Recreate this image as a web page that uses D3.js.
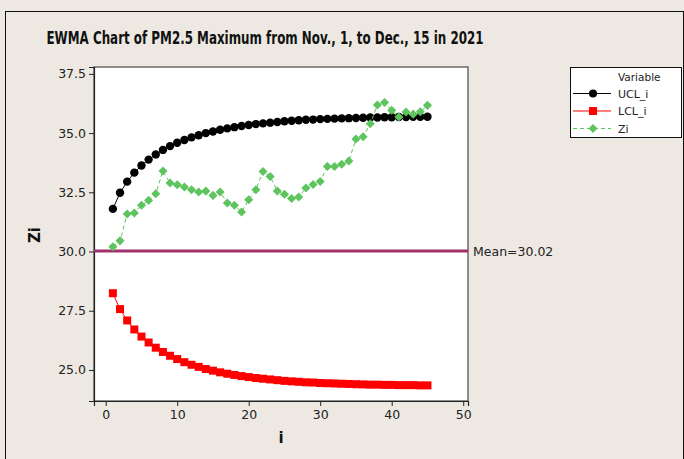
<!DOCTYPE html>
<html>
<head>
<meta charset="utf-8">
<script src="https://cdn.jsdelivr.net/npm/d3@7"></script>
<style>
  body { margin: 0; background: #ede9e2; }
  svg { display: block; font-family: Tahoma, "DejaVu Sans", sans-serif; }
</style>
</head>
<body>
<svg id="chart" width="684" height="459"></svg>
<script>
// sample number
const idx = [1,2,3,4,5,6,7,8,9,10,11,12,13,14,15,16,17,18,19,20,21,22,23,24,25,26,27,28,29,30,31,32,33,34,35,36,37,38,39,40,41,42,43,44,45];
// upper control limit
const ucl = [31.80,32.48,32.95,33.33,33.63,33.88,34.10,34.29,34.45,34.59,34.71,34.82,34.91,35.00,35.07,35.14,35.20,35.25,35.30,35.34,35.38,35.41,35.44,35.47,35.50,35.52,35.54,35.56,35.57,35.59,35.60,35.61,35.62,35.63,35.64,35.65,35.66,35.66,35.67,35.67,35.68,35.68,35.69,35.69,35.69];
// lower control limit
const lcl = [28.24,27.57,27.09,26.71,26.41,26.16,25.94,25.76,25.60,25.46,25.33,25.22,25.13,25.04,24.97,24.90,24.84,24.79,24.74,24.70,24.66,24.63,24.60,24.57,24.54,24.52,24.50,24.48,24.47,24.45,24.44,24.43,24.42,24.41,24.40,24.39,24.38,24.38,24.37,24.37,24.36,24.36,24.36,24.35,24.35];
// EWMA statistic
const zi = [30.20,30.45,31.58,31.63,31.95,32.16,32.44,33.40,32.89,32.82,32.72,32.61,32.51,32.55,32.37,32.51,32.05,31.95,31.67,32.19,32.61,33.38,33.17,32.55,32.42,32.24,32.30,32.68,32.83,32.96,33.59,33.59,33.68,33.82,34.75,34.85,35.39,36.19,36.29,35.96,35.68,35.89,35.80,35.90,36.17];
const meanVal = 30.02;
const xTicks = [0,10,20,30,40,50];
const yTicks = [25.0,27.5,30.0,32.5,35.0,37.5];
const seriesNames = ["UCL_i","LCL_i","Zi"];

const svg = d3.select("#chart");
const plot = { left: 94, right: 468, top: 67, bottom: 401 };

// outer frame
svg.append("rect").attr("x",5.5).attr("y",11.5).attr("width",678).attr("height",470)
   .attr("fill","#ede9e2").attr("stroke","#111");

svg.append("text").attr("x",265).attr("y",44)
   .attr("text-anchor","middle").attr("font-weight","bold").attr("font-size",17)
   .attr("fill","#111")
   .attr("textLength",437).attr("lengthAdjust","spacingAndGlyphs")
   .text("EWMA Chart of PM2.5 Maximum from Nov., 1, to Dec., 15 in 2021");

const x = d3.scaleLinear().domain([-1.64, 50.67]).range([plot.left, plot.right]);
const y = d3.scaleLinear().domain([23.69, 37.79]).range([plot.bottom, plot.top]);

svg.append("rect").attr("x",plot.left).attr("y",plot.top)
   .attr("width",plot.right-plot.left).attr("height",plot.bottom-plot.top)
   .attr("fill","#fff").attr("stroke","#6a6a6a").attr("stroke-width",1.5);

// axes
const gx = svg.append("g").attr("transform",`translate(0,${plot.bottom})`)
   .call(d3.axisBottom(x).tickValues(xTicks).tickSize(5).tickPadding(4).tickFormat(d3.format("d")));
const gy = svg.append("g").attr("transform",`translate(${plot.left},0)`)
   .call(d3.axisLeft(y).tickValues(yTicks).tickSize(5).tickPadding(3).tickFormat(d3.format(".1f")));
[gx, gy].forEach(g => {
  g.select(".domain").attr("stroke","#222").attr("stroke-width",1.2);
  g.selectAll(".tick line").attr("stroke","#222");
  g.selectAll(".tick text").attr("fill","#222").attr("font-size",12.5)
   .attr("font-family","Tahoma, 'DejaVu Sans', sans-serif");
});

svg.append("text").attr("x",281).attr("y",443).attr("text-anchor","middle")
   .attr("font-weight","bold").attr("font-size",15).attr("fill","#111").text("i");
svg.append("text").attr("transform","translate(40,235) rotate(-90)").attr("text-anchor","middle")
   .attr("font-weight","bold").attr("font-size",15).attr("fill","#111").text("Zi");

// mean line
svg.append("line").attr("x1",plot.left).attr("x2",plot.right)
   .attr("y1",y(meanVal)).attr("y2",y(meanVal))
   .attr("stroke","#a0306a").attr("stroke-width",3);
svg.append("text").attr("x",473).attr("y",y(meanVal)+5).attr("font-size",12.5)
   .attr("fill","#222").text("Mean=" + meanVal.toFixed(2));

const line = d3.line().x(d => x(d[0])).y(d => y(d[1]));
const pairs = arr => idx.map((v,k) => [v, arr[k]]);

const diamond = d3.symbol().type(d3.symbolDiamond2).size(52);

// UCL
svg.append("path").datum(pairs(ucl)).attr("d",line).attr("fill","none").attr("stroke","#000").attr("stroke-width",1);
svg.selectAll("circle.ucl").data(pairs(ucl)).join("circle").attr("class","ucl")
   .attr("cx",d => x(d[0])).attr("cy",d => y(d[1])).attr("r",4.2).attr("fill","#000");

// LCL
svg.append("path").datum(pairs(lcl)).attr("d",line).attr("fill","none").attr("stroke","#f00").attr("stroke-width",1);
svg.selectAll("rect.lcl").data(pairs(lcl)).join("rect").attr("class","lcl")
   .attr("x",d => x(d[0])-4).attr("y",d => y(d[1])-4).attr("width",8).attr("height",8).attr("fill","#f00");

// Zi
svg.append("path").datum(pairs(zi)).attr("d",line).attr("fill","none").attr("stroke","#5ec45e")
   .attr("stroke-width",1).attr("stroke-dasharray","4,3");
svg.selectAll("path.zi").data(pairs(zi)).join("path").attr("class","zi")
   .attr("transform",d => `translate(${x(d[0])},${y(d[1])})`)
   .attr("d",diamond).attr("fill","#5ec45e");

// legend
const lg = svg.append("g");
lg.append("rect").attr("x",570.5).attr("y",67.5).attr("width",111).attr("height",70)
  .attr("fill","#fff").attr("stroke","#111");
lg.append("text").attr("x",618).attr("y",81).attr("font-size",10.5).attr("fill","#222").text("Variable");
const legY = [93.5, 111, 128.5];
const legStyle = [
  { c: "#000", dash: null },
  { c: "#f00", dash: null },
  { c: "#5ec45e", dash: "4,3" }
];
seriesNames.forEach((name,k) => {
  const yy = legY[k];
  lg.append("line").attr("x1",573).attr("x2",611).attr("y1",yy).attr("y2",yy)
    .attr("stroke",legStyle[k].c).attr("stroke-width",1.2)
    .attr("stroke-dasharray",legStyle[k].dash);
  if (k === 0) lg.append("circle").attr("cx",593).attr("cy",yy).attr("r",4).attr("fill","#000");
  if (k === 1) lg.append("rect").attr("x",589).attr("y",yy-4).attr("width",8).attr("height",8).attr("fill","#f00");
  if (k === 2) lg.append("path").attr("transform",`translate(593,${yy})`).attr("d",diamond).attr("fill","#5ec45e");
  lg.append("text").attr("x",618).attr("y",yy+4).attr("font-size",11).attr("fill","#222").text(name);
});
</script>
</body>
</html>
